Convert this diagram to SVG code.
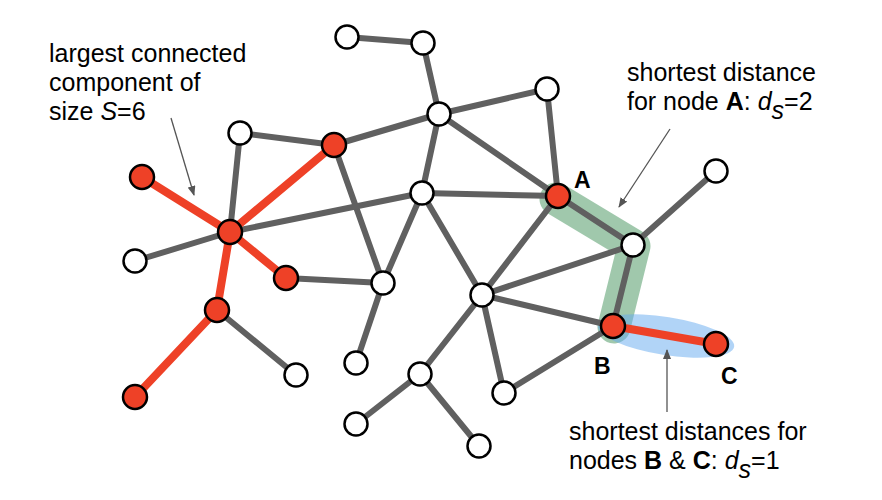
<svg xmlns="http://www.w3.org/2000/svg" width="882" height="500" viewBox="0 0 882 500">
<style>
.e{stroke:#606060;stroke-width:6;stroke-linecap:round;fill:none}
.r{stroke:#ee4127;stroke-width:8;stroke-linecap:round;fill:none}
.w{fill:#fff;stroke:#000;stroke-width:2.5}
.n{fill:#ee4127;stroke:#000;stroke-width:2.5}
.t{font-family:"Liberation Sans",Arial,Helvetica,sans-serif;font-size:25px;fill:#000}
.lb{font-family:"Liberation Sans",Arial,Helvetica,sans-serif;font-size:23px;font-weight:bold;fill:#000}
.ar{stroke:#555;stroke-width:1.3;fill:none}
</style>
<defs>
<marker id="ah" markerUnits="userSpaceOnUse" markerWidth="10" markerHeight="8" refX="9" refY="4" orient="auto">
<path d="M0,0 L10,4 L0,8 z" fill="#555"/>
</marker>
</defs>
<rect width="882" height="500" fill="#fff"/>
<g id="highlights">
<path d="M556,199 L634,246 L614,327" stroke="rgb(65,145,90)" stroke-opacity="0.5" stroke-width="33" stroke-linecap="round" stroke-linejoin="round" fill="none"/>
<ellipse cx="666" cy="336" rx="69" ry="19" transform="rotate(9 666 336)" fill="rgb(100,170,240)" fill-opacity="0.5"/>
</g>
<g id="connectors">
<line class="e" x1="347" y1="37" x2="423" y2="43"/>
<line class="e" x1="423" y1="43" x2="439" y2="114"/>
<line class="e" x1="439" y1="114" x2="334" y2="145"/>
<line class="e" x1="439" y1="114" x2="547" y2="89"/>
<line class="e" x1="439" y1="114" x2="558" y2="196"/>
<line class="e" x1="439" y1="114" x2="422" y2="193"/>
<line class="e" x1="547" y1="89" x2="558" y2="196"/>
<line class="e" x1="240" y1="133" x2="334" y2="145"/>
<line class="e" x1="240" y1="133" x2="230" y2="232"/>
<line class="e" x1="334" y1="145" x2="383" y2="283"/>
<line class="e" x1="230" y1="232" x2="422" y2="193"/>
<line class="e" x1="230" y1="232" x2="135" y2="261"/>
<line class="e" x1="422" y1="193" x2="558" y2="196"/>
<line class="e" x1="422" y1="193" x2="383" y2="283"/>
<line class="e" x1="422" y1="193" x2="482" y2="295"/>
<line class="e" x1="558" y1="196" x2="482" y2="295"/>
<line class="e" x1="558" y1="196" x2="633" y2="245"/>
<line class="e" x1="633" y1="245" x2="716" y2="171"/>
<line class="e" x1="633" y1="245" x2="482" y2="295"/>
<line class="e" x1="633" y1="245" x2="613" y2="326"/>
<line class="e" x1="482" y1="295" x2="613" y2="326"/>
<line class="e" x1="482" y1="295" x2="420" y2="374"/>
<line class="e" x1="482" y1="295" x2="504" y2="393"/>
<line class="e" x1="613" y1="326" x2="504" y2="393"/>
<line class="e" x1="286" y1="278" x2="383" y2="283"/>
<line class="e" x1="383" y1="283" x2="356" y2="363"/>
<line class="e" x1="217" y1="310" x2="296" y2="375"/>
<line class="e" x1="420" y1="374" x2="356" y2="424"/>
<line class="e" x1="420" y1="374" x2="479" y2="446"/>
<line class="r" x1="142" y1="177" x2="230" y2="232"/>
<line class="r" x1="230" y1="232" x2="334" y2="145"/>
<line class="r" x1="230" y1="232" x2="286" y2="278"/>
<line class="r" x1="230" y1="232" x2="217" y2="310"/>
<line class="r" x1="217" y1="310" x2="135" y2="397"/>
<line class="r" x1="613" y1="326" x2="716" y2="344"/>
</g>
<g id="n1"><circle class="w" cx="347" cy="37" r="11.5"/></g>
<g id="n2"><circle class="w" cx="423" cy="43" r="11.5"/></g>
<g id="n3"><circle class="w" cx="439" cy="114" r="11.5"/></g>
<g id="n4"><circle class="w" cx="547" cy="89" r="11.5"/></g>
<g id="n5"><circle class="w" cx="240" cy="133" r="11.5"/></g>
<g id="n6"><circle class="w" cx="422" cy="193" r="11.5"/></g>
<g id="n7"><circle class="w" cx="716" cy="171" r="11.5"/></g>
<g id="n8"><circle class="w" cx="135" cy="261" r="11.5"/></g>
<g id="n9"><circle class="w" cx="633" cy="245" r="11.5"/></g>
<g id="n10"><circle class="w" cx="383" cy="283" r="11.5"/></g>
<g id="n11"><circle class="w" cx="482" cy="295" r="11.5"/></g>
<g id="n12"><circle class="w" cx="356" cy="363" r="11.5"/></g>
<g id="n13"><circle class="w" cx="296" cy="375" r="11.5"/></g>
<g id="n14"><circle class="w" cx="420" cy="374" r="11.5"/></g>
<g id="n15"><circle class="w" cx="504" cy="393" r="11.5"/></g>
<g id="n16"><circle class="w" cx="356" cy="424" r="11.5"/></g>
<g id="n17"><circle class="w" cx="479" cy="446" r="11.5"/></g>
<g id="r1"><circle class="n" cx="334" cy="145" r="12"/></g>
<g id="r2"><circle class="n" cx="142" cy="177" r="12"/></g>
<g id="r3"><circle class="n" cx="230" cy="232" r="12"/></g>
<g id="r4"><circle class="n" cx="286" cy="278" r="12"/></g>
<g id="r5"><circle class="n" cx="217" cy="310" r="12"/></g>
<g id="r6"><circle class="n" cx="135" cy="397" r="12"/></g>
<g id="nodeA"><circle class="n" cx="558" cy="196" r="12"/><text class="lb" x="574" y="188">A</text></g>
<g id="nodeB"><circle class="n" cx="613" cy="326" r="12"/><text class="lb" x="594" y="374">B</text></g>
<g id="nodeC"><circle class="n" cx="716" cy="344" r="12"/><text class="lb" x="721" y="384">C</text></g>
<g id="annotations">
<line class="ar" x1="171" y1="118" x2="194" y2="195" marker-end="url(#ah)"/>
<line class="ar" x1="670" y1="129" x2="619" y2="207" marker-end="url(#ah)"/>
<line class="ar" x1="667" y1="412" x2="667" y2="350" marker-end="url(#ah)"/>
<text class="t" x="49" y="62">largest connected</text>
<text class="t" x="49" y="91">component of</text>
<text class="t" x="49" y="120">size <tspan font-style="italic">S</tspan>=6</text>
<text class="t" x="627" y="80.5">shortest distance</text>
<text class="t" x="627" y="110">for node <tspan font-weight="bold">A</tspan>: <tspan font-style="italic">d</tspan><tspan font-style="italic" dy="9">s</tspan><tspan dy="-9">=2</tspan></text>
<text class="t" x="569" y="440">shortest distances for</text>
<text class="t" x="569" y="469">nodes <tspan font-weight="bold">B</tspan> &amp; <tspan font-weight="bold">C</tspan>: <tspan font-style="italic">d</tspan><tspan font-style="italic" dy="9">s</tspan><tspan dy="-9">=1</tspan></text>
</g>
</svg>
